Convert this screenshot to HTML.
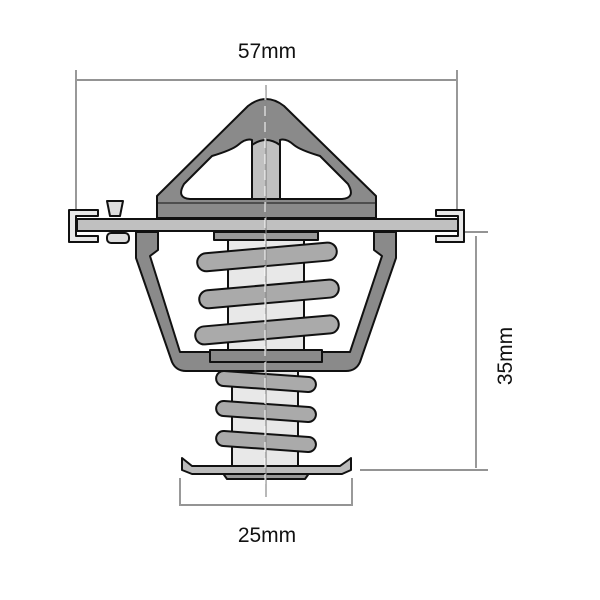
<!DOCTYPE html>
<html><head><style>body{margin:0;background:#fff}svg{display:block}</style></head><body>
<svg width="600" height="600" viewBox="0 0 600 600" xmlns="http://www.w3.org/2000/svg" font-family="Liberation Sans, sans-serif">
<g stroke="#555" stroke-width="1.2" fill="none">
<line x1="76" y1="70" x2="76" y2="212"/><line x1="457" y1="70" x2="457" y2="212"/>
<line x1="77" y1="80" x2="456" y2="80"/>
<line x1="465" y1="232" x2="488" y2="232"/><line x1="360" y1="470" x2="488" y2="470"/>
<line x1="476" y1="236" x2="476" y2="468"/>
<line x1="180" y1="478" x2="180" y2="506"/><line x1="352" y1="478" x2="352" y2="506"/>
<line x1="181" y1="505" x2="351" y2="505"/>
</g>
<text x="267" y="58" font-size="21" text-anchor="middle" fill="#111">57mm</text>
<text x="267" y="542" font-size="21" text-anchor="middle" fill="#111">25mm</text>
<text transform="translate(512,356) rotate(-90)" font-size="21" text-anchor="middle" fill="#111">35mm</text>
<g stroke="#111" stroke-width="2" stroke-linejoin="round">
<rect x="232" y="368" width="66" height="98" fill="#e8e8e8"/>
<g fill="#aaa">
<rect x="216" y="374" width="100" height="15" rx="7.5" transform="rotate(4 266 382)"/>
<rect x="216" y="404" width="100" height="15" rx="7.5" transform="rotate(4 266 412)"/>
<rect x="216" y="434" width="100" height="15" rx="7.5" transform="rotate(4 266 442)"/>
</g>
<path d="M222 472 L310 472 L305 479 L227 479 Z" fill="#999"/>
<path d="M182 458 L182 470 L192 474 L342 474 L351 470 L351 458 L340 466 L192 466 Z" fill="#bbb"/>
<path d="M136 232 L158 232 L158 250 L150 256 L180 352 L350 352 L382 256 L374 250 L374 232 L396 232 L396 258 L360 362 Q356 371 346 371 L186 371 Q176 371 172 362 L136 258 Z" fill="#8a8a8a"/>
<rect x="210" y="350" width="112" height="12" fill="#8a8a8a"/>
<rect x="228" y="236" width="76" height="114" fill="#e8e8e8"/>
<rect x="214" y="232" width="104" height="8" fill="#999"/>
<g fill="#aaa">
<rect x="197" y="248" width="140" height="18" rx="9" transform="rotate(-5 266 257)"/>
<rect x="199" y="285" width="140" height="18" rx="9" transform="rotate(-5 268 294)"/>
<rect x="195" y="321" width="144" height="18" rx="9" transform="rotate(-5 266 330)"/>
</g>
<path d="M157 218 L157 196 L248 106 Q266 92 284 106 L376 196 L376 218 Z" fill="#8a8a8a"/>
<path d="M190 199 Q176 198 184 184 L212 156 Q232 150 238 145 Q246 138 252 140 L252 199 Z M342 199 Q356 198 348 184 L320 156 Q300 150 294 145 Q286 138 280 140 L280 199 Z" fill="#fff"/>
<path d="M252 199 L252 145 Q266 135 280 145 L280 199 Z" fill="#c0c0c0"/>
<line x1="157" y1="203" x2="376" y2="203" stroke-width="1"/>
<rect x="77" y="219" width="382" height="12" fill="#c0c0c0"/>
<path d="M69 210 L98 210 L98 216 L76 216 L76 236 L98 236 L98 242 L69 242 Z" fill="#e8e8e8"/>
<path d="M464 210 L436 210 L436 216 L458 216 L458 236 L436 236 L436 242 L464 242 Z" fill="#e8e8e8"/>
<path d="M107 201 L123 201 L120 216 L110 216 Z" fill="#ddd"/>
<rect x="107" y="233" width="22" height="10" rx="4" fill="#ddd"/>
</g>
<line x1="266" y1="85" x2="266" y2="497" stroke="#888" stroke-width="1.2"/>
<line x1="265" y1="90" x2="265" y2="490" stroke="#fff" stroke-width="1" stroke-dasharray="10 6"/>
</svg>
</body></html>
